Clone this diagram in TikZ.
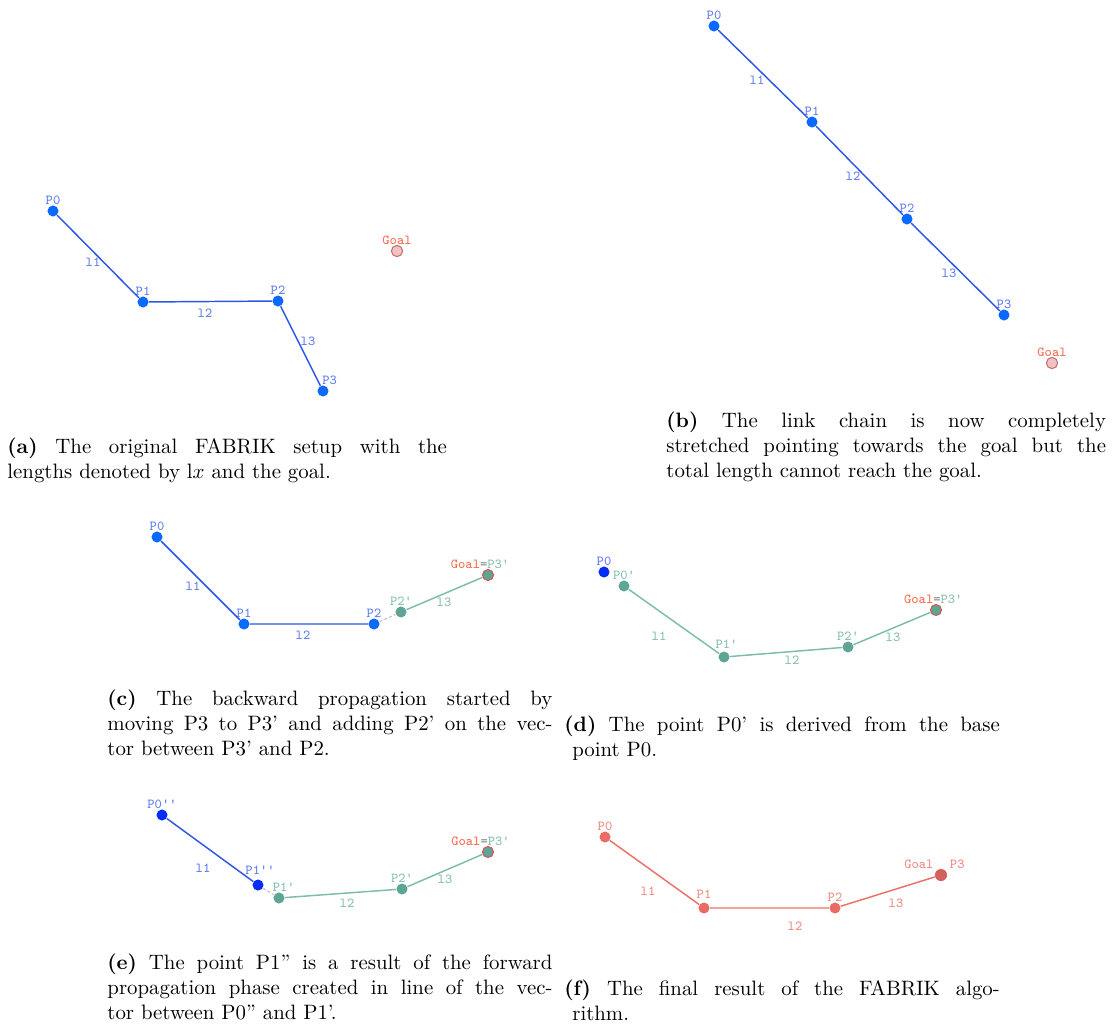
\documentclass[tikz,border=0pt]{standalone}
\usepackage{fontspec}
\usepackage{tikz}
\usetikzlibrary{positioning}
\definecolor{dotblue}{RGB}{10,105,255}
\definecolor{deepblue}{RGB}{5,45,245}
\definecolor{linkblue}{RGB}{45,85,230}
\definecolor{txtblue}{RGB}{95,125,240}
\definecolor{goalfill}{RGB}{240,195,195}
\definecolor{goaldraw}{RGB}{195,110,110}
\definecolor{goaltxt}{RGB}{250,105,75}
\definecolor{tealdot}{RGB}{95,165,150}
\definecolor{tealline}{RGB}{125,188,168}
\definecolor{tealtxt}{RGB}{130,192,172}
\definecolor{finaldot}{RGB}{232,108,100}
\definecolor{finalline}{RGB}{236,112,104}
\definecolor{finaltxt}{RGB}{240,138,128}
\definecolor{hintgray}{RGB}{200,200,200}
\tikzset{joint/.style={circle, inner sep=0pt, minimum size=5.3pt, fill=dotblue, label distance=0.8pt},
       deep/.style={joint, fill=deepblue},
       tealj/.style={joint, fill=tealdot},
       finalj/.style={joint, fill=finaldot},
       goal/.style={circle, inner sep=0pt, minimum size=5.4pt, fill=goalfill, draw=goaldraw, line width=0.5pt, label distance=0.8pt},
       reached/.style={joint, fill=tealdot, draw=goaldraw!80!red, line width=0.5pt},
       tag/.style={inner sep=0pt, font=\fontsize{6.6}{7}\selectfont\ttfamily},
       tagb/.style={tag, text=txtblue},
       tagt/.style={tag, text=tealtxt},
       tagg/.style={tag, text=goaltxt},
       tagf/.style={tag, text=finaltxt},
       linkb/.style={draw=linkblue, line width=0.7pt},
       linkt/.style={draw=tealline, line width=0.7pt},
       linkf/.style={draw=finalline, line width=0.7pt},
       hint/.style={draw=hintgray, line width=0.6pt, dashed, dash pattern=on 1.5pt off 1pt},
       subcap/.style={anchor=base west, align=justify, inner sep=0pt, font=\normalsize}}
\newcommand{\goalis}{{\color{goaltxt}Goal}{\color{gray}=}{\color{tealtxt}P3'}}

\begin{document}
\begin{tikzpicture}[x=0.48pt, y=-0.48pt]
\useasboundingbox (0,0) rectangle (1116,1030);
% (a) start
\node [joint, label={[tagb]above:P0}] (a0) at (53,211) {};
\node [joint, label={[tagb]above:P1}] (a1) at (143,302) {};
\node [joint, label={[tagb]above:P2}] (a2) at (278,301) {};
\node [joint, label={[tagb, xshift=3.2pt]above:P3}] (a3) at (323,391) {};
\node [goal, label={[tagg]above:Goal}] (agoal) at (397,251) {};
\draw [linkb] (a0) -- (a1) -- (a2) -- (a3);
\node [tagb] (al1) at (93,262) {l1};
\node [tagb] (al2) at (205,313) {l2};
\node [tagb] (al3) at (308,341) {l3};
\node [subcap, text width=211pt] (capa) at (7,453) {\textbf{(a)} The original FABRIK setup with the\linebreak lengths denoted by l$x$ and the goal.};
% (b) stretched
\node [joint, label={[tagb]above:P0}] (b0) at (714,26) {};
\node [joint, label={[tagb]above:P1}] (b1) at (812,122) {};
\node [joint, label={[tagb]above:P2}] (b2) at (907,219) {};
\node [joint, label={[tagb]above:P3}] (b3) at (1004,315) {};
\node [goal, label={[tagg]above:Goal}] (bgoal) at (1052,363) {};
\draw [linkb] (b0) -- (b1) -- (b2) -- (b3);
\node [tagb] (bl1) at (757,80) {l1};
\node [tagb] (bl2) at (853,176) {l2};
\node [tagb] (bl3) at (949,273) {l3};
\node [subcap, text width=211pt] (capb) at (666,427) {\textbf{(b)} The link chain is now completely\linebreak stretched pointing towards the goal but the\linebreak total length cannot reach the goal.};
% (c) backward
\node [joint, label={[tagb]above:P0}] (c0) at (157,537) {};
\node [joint, label={[tagb]above:P1}] (c1) at (244,624) {};
\node [joint, label={[tagb]above:P2}] (c2) at (374,624) {};
\node [tealj, label={[tagt]above:P2'}] (c2p) at (401,612) {};
\node [reached, label={[tag, xshift=-3.8pt]above:\goalis}] (c3p) at (488,575) {};
\draw [linkb] (c0) -- (c1) -- (c2);
\draw [hint] (c2) -- (c2p);
\draw [linkt] (c2p) -- (c3p);
\node [tagb] (cl1) at (193,586) {l1};
\node [tagb] (cl2) at (303,635) {l2};
\node [tagt] (cl3) at (444,602) {l3};
\node [subcap, text width=213.6pt] (capc) at (107,705) {\textbf{(c)} The backward propagation started by\linebreak moving P3 to P3' and adding P2' on the vec-\linebreak tor between P3' and P2.};
% (d) base point
\node [deep, label={[tagb]above:P0}] (d0) at (604,572) {};
\node [tealj, label={[tagt]above:P0'}] (d0p) at (624,586) {};
\node [tealj, label={[tagt, xshift=1.2pt, yshift=1.2pt]above:P1'}] (d1p) at (724,657) {};
\node [tealj, label={[tagt]above:P2'}] (d2p) at (848,647) {};
\node [reached, label={[tag, xshift=-1.3pt]above:\goalis}] (d3p) at (936,610) {};
\draw [linkt] (d0p) -- (d1p) -- (d2p) -- (d3p);
\node [tagt] (dl1) at (659,636) {l1};
\node [tagt] (dl2) at (792,660) {l2};
\node [tagt] (dl3) at (893,637) {l3};
\node [subcap, text width=209pt] (capd) at (564,731) {\hangindent=3.8pt\hangafter=1 \textbf{(d)} The point P0' is derived from the base\linebreak point P0.\par};
% (e) forward
\node [deep, label={[tagb]above:P0''}] (e0) at (162,815) {};
\node [deep, label={[tagb, xshift=1pt, yshift=2pt]above:P1''}] (e1) at (258,885) {};
\node [tealj, label={[tagt, xshift=2.3pt]above:P1'}] (e1p) at (279,898) {};
\node [tealj, label={[tagt]above:P2'}] (e2p) at (402,889) {};
\node [reached, label={[tag, xshift=-3.6pt]above:\goalis}] (e3p) at (488,852) {};
\draw [linkb] (e0) -- (e1);
\draw [hint] (e1) -- (e1p);
\draw [linkt] (e1p) -- (e2p) -- (e3p);
\node [tagb] (el1) at (203,868) {l1};
\node [tagt] (el2) at (347,903) {l2};
\node [tagt] (el3) at (445,879) {l3};
\node [subcap, text width=213.6pt] (cape) at (107,969) {\textbf{(e)} The point P1'' is a result of the forward\linebreak propagation phase created in line of the vec-\linebreak tor between P0'' and P1'.};
% (f) final
\node [finalj, label={[tagf]above:P0}] (f0) at (605,837) {};
\node [finalj, label={[tagf, yshift=1.7pt]above:P1}] (f1) at (704,908) {};
\node [finalj, label={[tagf]above:P2}] (f2) at (835,908) {};
\node [finalj, fill=finaldot!90!black, minimum size=5.8pt, label={[tagf, xshift=-10.6pt]above:Goal}, label={[tagf, xshift=7.8pt]above:P3}] (f3) at (941,875) {};
\draw [linkf] (f0) -- (f1) -- (f2) -- (f3);
\node [tagf] (fl1) at (648,891) {l1};
\node [tagf] (fl2) at (795,926) {l2};
\node [tagf] (fl3) at (896,903) {l3};
\node [subcap, text width=209pt] (capf) at (564,995) {\hangindent=3.8pt\hangafter=1 \textbf{(f)} The final result of the FABRIK algo-\linebreak rithm.\par};
\end{tikzpicture}
\end{document}
